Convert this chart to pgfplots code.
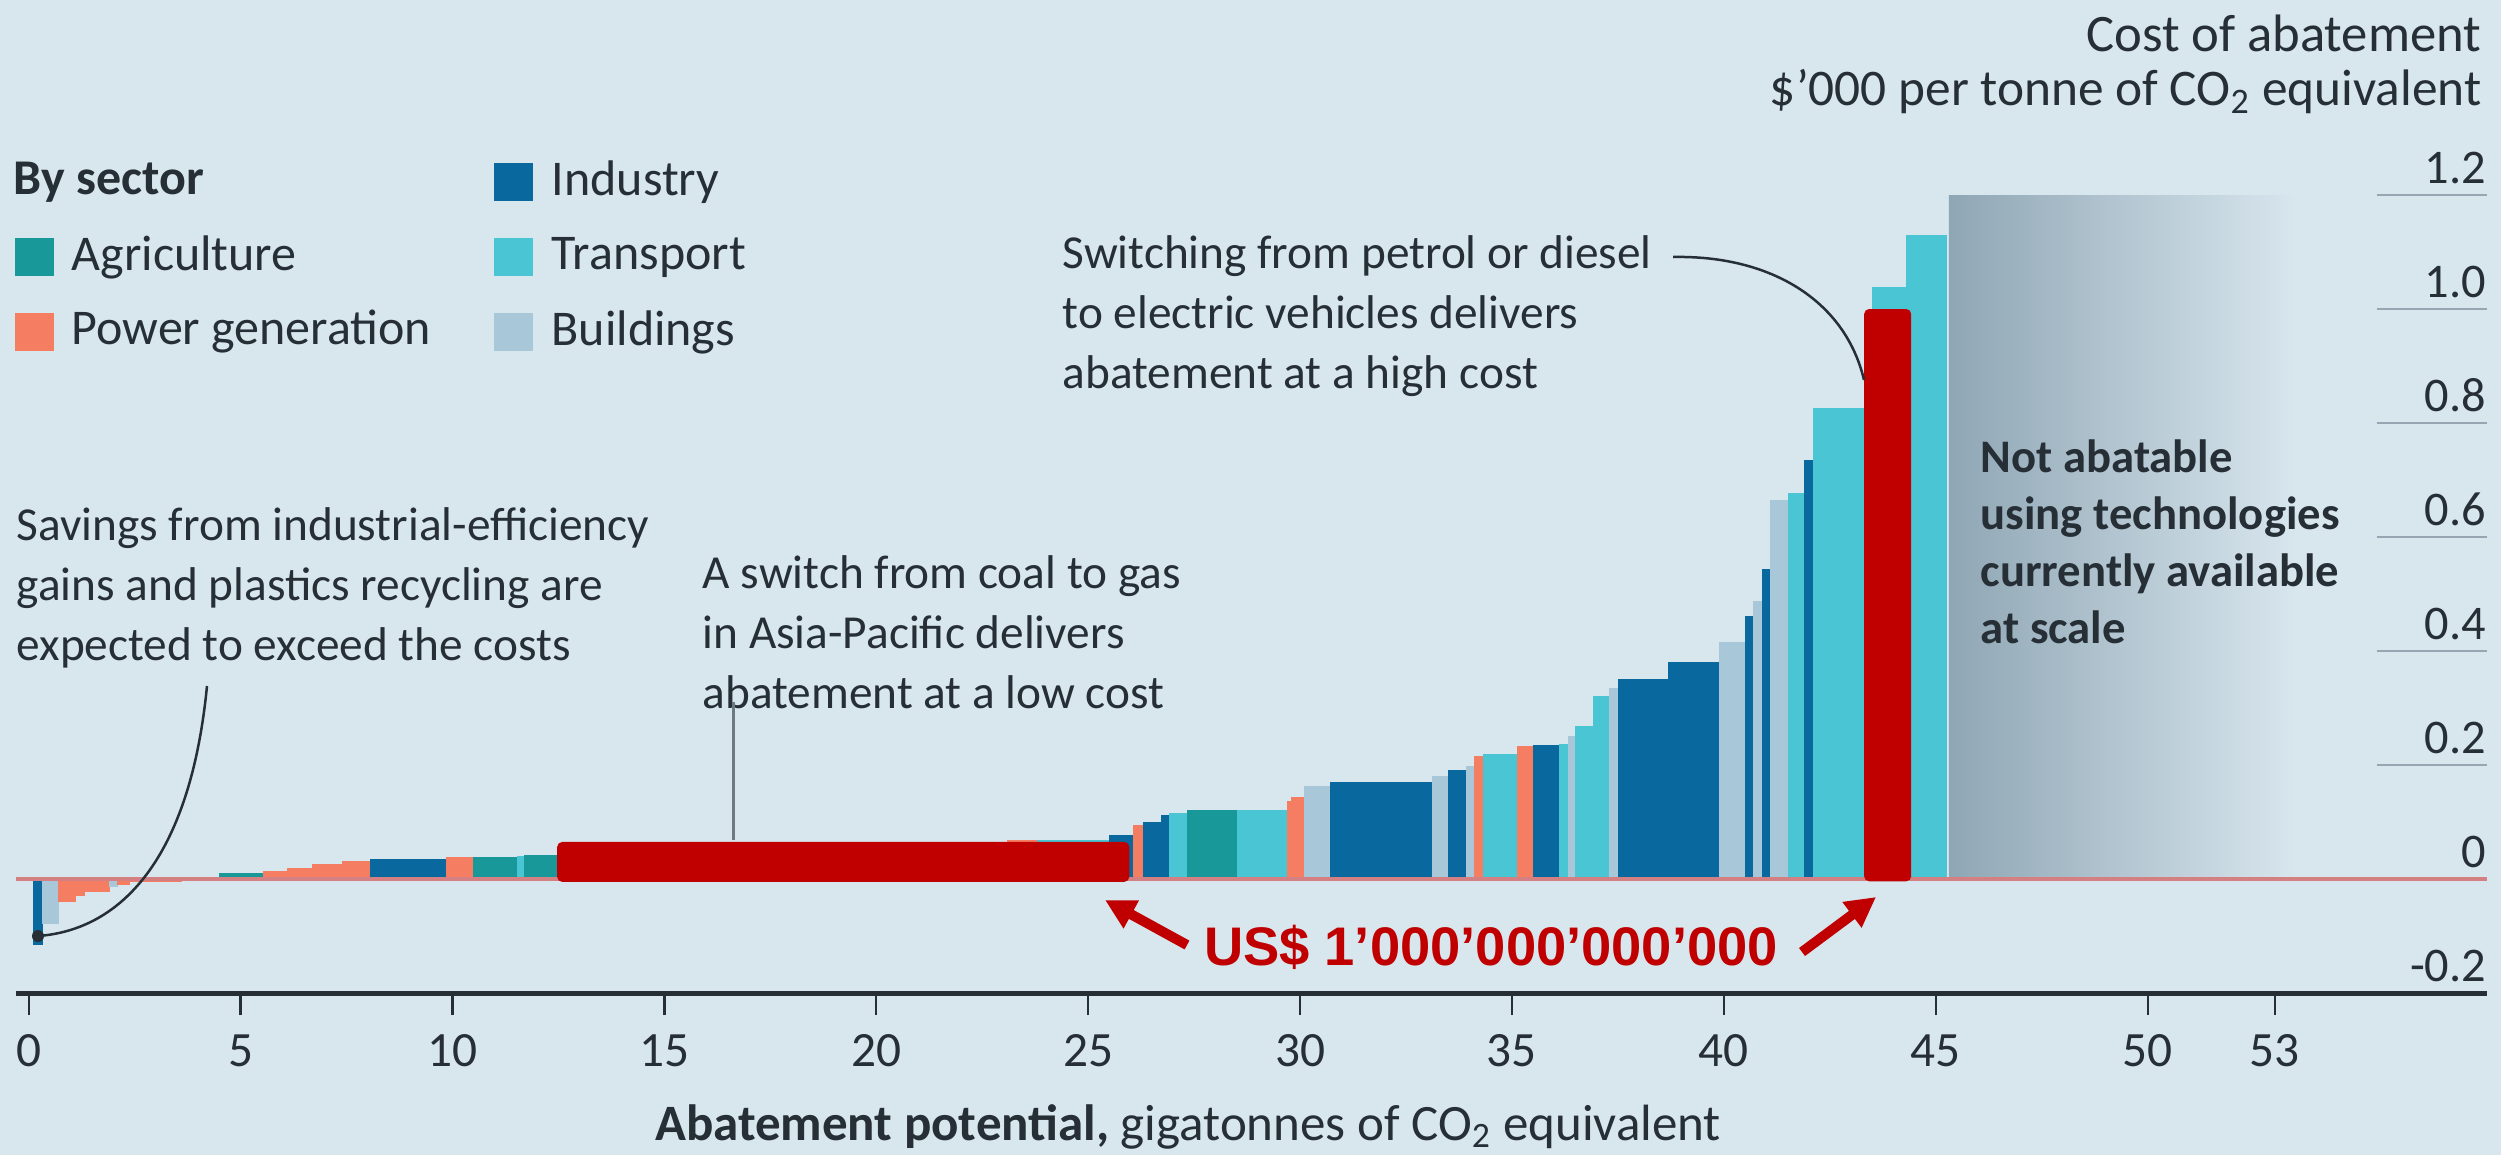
\documentclass[border=0pt]{standalone}
\usepackage{pgfplots}
\pgfplotsset{compat=1.18}
\usepackage{pgfplotstable}
\usepackage{fontspec}
\setmainfont{Carlito}
\newfontfamily\arialfont{Liberation Sans}
\usetikzlibrary{arrows.meta}

\definecolor{bg}{RGB}{216,230,238}
\definecolor{sec1}{RGB}{25,152,154}  % Agriculture
\definecolor{sec2}{RGB}{245,125,98}  % Power generation
\definecolor{sec3}{RGB}{9,105,158}   % Industry
\definecolor{sec4}{RGB}{74,197,212}  % Transport
\definecolor{sec5}{RGB}{168,200,218} % Buildings
\definecolor{txt}{RGB}{38,46,54}
\definecolor{hl}{RGB}{192,0,0}
\definecolor{zeroline}{RGB}{212,128,130}
\definecolor{gridc}{RGB}{150,166,178}
\definecolor{shadeL}{RGB}{143,166,180}
\definecolor{pointer}{RGB}{110,122,130}

% bars: left edge, right edge, cost, sector (1 Agri, 2 Power, 3 Industry, 4 Transport, 5 Buildings)
\pgfplotstableread{
x0 x1 y s
0.10 0.32 -0.115 3
0.32 0.69 -0.077 5
0.69 1.11 -0.040 2
1.11 1.32 -0.028 2
1.32 1.90 -0.022 2
1.90 2.10 -0.013 5
2.10 2.38 -0.010 2
2.38 3.60 -0.004 2
4.49 5.54 0.010 1
5.54 6.10 0.013 2
6.10 6.70 0.018 2
6.70 7.40 0.026 2
7.40 8.07 0.031 2
8.07 9.86 0.035 3
9.86 10.49 0.038 2
10.49 11.54 0.038 1
11.54 11.70 0.040 4
11.70 12.49 0.042 1
12.49 14.20 0.045 3
14.20 16.50 0.048 2
16.50 20.80 0.052 2
20.80 23.10 0.058 3
23.10 23.80 0.067 2
23.80 25.49 0.068 4
25.49 26.07 0.077 3
26.07 26.29 0.095 2
26.29 26.72 0.100 3
26.72 26.91 0.111 3
26.91 27.33 0.116 4
27.33 28.51 0.120 1
28.51 29.70 0.121 4
29.70 29.80 0.136 2
29.80 30.10 0.144 2
30.10 30.71 0.162 5
30.71 33.13 0.169 3
33.13 33.49 0.181 5
33.49 33.92 0.190 3
33.92 34.11 0.197 5
34.11 34.32 0.216 2
34.32 35.13 0.218 4
35.13 35.50 0.232 2
35.50 36.11 0.234 3
36.11 36.32 0.237 4
36.32 36.50 0.251 5
36.50 36.91 0.267 4
36.91 37.29 0.320 4
37.29 37.52 0.335 5
37.52 38.70 0.350 3
38.70 39.90 0.380 3
39.90 40.50 0.415 5
40.50 40.69 0.460 3
40.69 40.91 0.488 5
40.91 41.09 0.543 3
41.09 41.52 0.664 5
41.52 41.91 0.676 4
41.91 42.11 0.735 3
42.11 43.51 0.825 4
43.51 44.31 1.038 4
44.31 45.26 1.130 4
}\bars

\pgfplotstablegetrowsof{\bars}
\pgfmathtruncatemacro{\nbars}{\pgfplotsretval-1}

\begin{document}
\begin{tikzpicture}
\fill[bg] (0,0) rectangle (750.3pt,346.5pt);
\begin{axis}[
  at={(4.8pt,48.6pt)}, anchor=south west, scale only axis,
  width=741.2pt, height=239.4pt,
  xmin=-0.3, xmax=58, ymin=-0.2, ymax=1.2,
  axis x line*=bottom, axis y line=none,
  axis line style={-},
  x axis line style={draw=txt, line width=1.5pt, -},
  xtick={0,5,10,15,20,25,30,35,40,45,50,53},
  ytick=\empty,
  xtick style={draw=txt, line width=0.7pt},
  tick align=outside, major tick length=6.6pt,
  xticklabel style={font=\fontsize{14.8pt}{17pt}\selectfont, text=txt, yshift=-2.4pt},
  /pgf/number format/assume math mode=true,
  xlabel={\textbf{Abatement potential,} gigatonnes of CO\textsubscript{2} equivalent},
  x label style={at={(axis description cs:0.4744,-0.168)}, anchor=center,
    font=\fontsize{15.3pt}{17pt}\selectfont, text=txt},
  clip=false,
]
% region not abatable
\addplot[draw=none, left color=shadeL, right color=bg] coordinates {(45.31,0) (53.5,0) (53.5,1.2) (45.31,1.2)} -- cycle;
% bars
\pgfplotsforeachungrouped \i in {0,...,\nbars}{%
  \pgfplotstablegetelem{\i}{x0}\of{\bars}\let\xa\pgfplotsretval
  \pgfplotstablegetelem{\i}{x1}\of{\bars}\let\xb\pgfplotsretval
  \pgfplotstablegetelem{\i}{y}\of{\bars}\let\yv\pgfplotsretval
  \pgfplotstablegetelem{\i}{s}\of{\bars}\let\sv\pgfplotsretval
  \edef\tmp{\noexpand\addplot[fill=sec\sv, draw=sec\sv, line width=0.2pt] coordinates {(\xa,0) (\xb,0) (\xb,\yv) (\xa,\yv)} -- cycle;}%
  \tmp
}
% zero line
\addplot[zeroline, line width=1.1pt] coordinates {(-0.3,0) (58,0)};
% grid stubs and labels on the right
\pgfplotsinvokeforeach{0.2,0.4,0.6,0.8,1.0,1.2}{
  \draw[gridc, line width=0.8pt] (axis cs:55.4,#1) -- (axis cs:58,#1);
}
\node[anchor=south east, inner sep=0, yshift=3.2pt, text=txt, font=\fontsize{14.5pt}{17pt}\selectfont] at (axis cs:58,1.2) {1.2};
\node[anchor=south east, inner sep=0, yshift=3.2pt, text=txt, font=\fontsize{14.5pt}{17pt}\selectfont] at (axis cs:58,1.0) {1.0};
\node[anchor=south east, inner sep=0, yshift=3.2pt, text=txt, font=\fontsize{14.5pt}{17pt}\selectfont] at (axis cs:58,0.8) {0.8};
\node[anchor=south east, inner sep=0, yshift=3.2pt, text=txt, font=\fontsize{14.5pt}{17pt}\selectfont] at (axis cs:58,0.6) {0.6};
\node[anchor=south east, inner sep=0, yshift=3.2pt, text=txt, font=\fontsize{14.5pt}{17pt}\selectfont] at (axis cs:58,0.4) {0.4};
\node[anchor=south east, inner sep=0, yshift=3.2pt, text=txt, font=\fontsize{14.5pt}{17pt}\selectfont] at (axis cs:58,0.2) {0.2};
\node[anchor=south east, inner sep=0, yshift=3.2pt, text=txt, font=\fontsize{14.5pt}{17pt}\selectfont] at (axis cs:58,0) {0};
\node[anchor=south east, inner sep=0, yshift=3.2pt, text=txt, font=\fontsize{14.5pt}{17pt}\selectfont] at (axis cs:58,-0.2) {-0.2};
% red highlight overlays
\addplot[fill=hl, draw=none, rounded corners=1.5pt] coordinates {(12.47,-0.005) (25.97,-0.005) (25.97,0.065) (12.47,0.065)} -- cycle;
\addplot[fill=hl, draw=none, rounded corners=1.5pt] coordinates {(43.31,-0.004) (44.42,-0.004) (44.42,1.0) (43.31,1.0)} -- cycle;
\end{axis}

\begin{scope}[shift={(0pt,346.5pt)}, x=0.3pt, y=-0.3pt]
% titles
\node[anchor=east, inner sep=0, text=txt, font=\fontsize{15.8pt}{17pt}\selectfont] at (2482,33) {Cost of abatement};
\node[anchor=east, inner sep=0, text=txt, font=\fontsize{15.4pt}{17pt}\selectfont] at (2482,92) {\$’000 per tonne of CO\textsubscript{2} equivalent};
% legend
\node[anchor=west, inner sep=0, text=txt, font=\bfseries\fontsize{15pt}{17pt}\selectfont] at (13,182) {By sector};
\fill[sec1] (15,238) rectangle (54,276);
\fill[sec2] (15,313) rectangle (54,351);
\fill[sec3] (494,163) rectangle (533,201);
\fill[sec4] (494,238) rectangle (533,276);
\fill[sec5] (494,313) rectangle (533,351);
\begin{scope}[every node/.style={anchor=west, inner sep=0, text=txt, font=\fontsize{15pt}{17pt}\selectfont}]
\node at (71,257) {Agriculture};
\node at (71,332) {Power generation};
\node at (551,182) {Industry};
\node at (551,257) {Transport};
\node at (551,332) {Buildings};
\end{scope}
% annotations
\begin{scope}[every node/.style={anchor=west, inner sep=0, align=left, text=txt, font=\fontsize{14.2pt}{18pt}\selectfont}]
\node at (16,588) {Savings from industrial-efficiency\\gains and plastics recycling are\\expected to exceed the costs};
\node at (702,632) {A switch from coal to gas\\in Asia-Pacific delivers\\abatement at a low cost};
\node at (1062,316) {Switching from petrol or diesel\\to electric vehicles delivers\\abatement at a high cost};
\end{scope}
\node[anchor=west, inner sep=0, align=left, text=txt, font=\bfseries\fontsize{14pt}{17.1pt}\selectfont] at (1980,542) {Not abatable\\using technologies\\currently available\\at scale};
\draw[txt, line width=0.75pt] (207,686) .. controls (190,860) and (120,930) .. (38,936);
\fill[txt] (38,936) circle (1.8pt);
\draw[pointer, line width=0.9pt] (733,702) -- (733,840);
\draw[txt, line width=0.75pt] (1673,257) .. controls (1770,255) and (1845,300) .. (1864,380);
% highlight arrows and text
\draw[hl, line width=3pt, -{Triangle[length=9pt,width=9pt]}] (1187,945) -- (1105,900);
\draw[hl, line width=3pt, -{Triangle[length=9pt,width=9pt]}] (1802,952) -- (1876,897);
\node[inner sep=0, text=hl, font=\arialfont\bfseries\fontsize{16.3pt}{18pt}\selectfont] at (1491,947) {US\$ 1’000’000’000’000};
\end{scope}
\pgfresetboundingbox
\useasboundingbox (0,0) rectangle (750.3pt,346.5pt);
\end{tikzpicture}
\end{document}
